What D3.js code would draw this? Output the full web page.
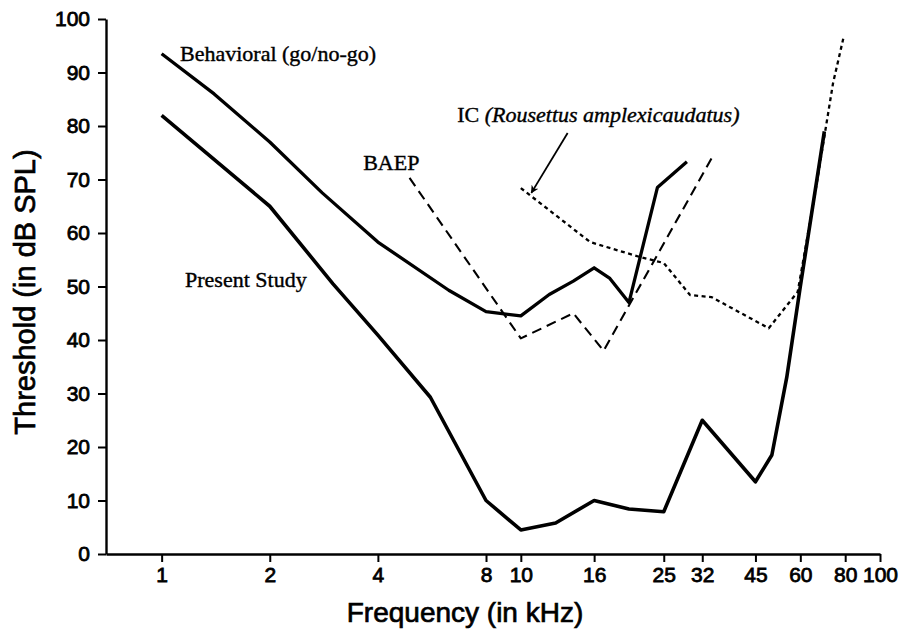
<!DOCTYPE html>
<html>
<head>
<meta charset="utf-8">
<script src="https://cdn.jsdelivr.net/npm/d3@7.9.0/dist/d3.min.js"></script>
<style>
  html, body { margin: 0; padding: 0; background: white; }
  svg { display: block; }
</style>
</head>
<body>
<div id="chart"></div>
<script>
// frequencies in kHz, thresholds in dB SPL
const presentFreq = [1, 2, 3, 4, 5.6, 8, 10, 12.5, 16, 20, 25, 32, 45, 50, 55, 60, 70];
const presentThr  = [82, 65, 50.5, 40.9, 29.3, 10, 4.5, 5.8, 10, 8.4, 7.9, 25, 13.5, 18.5, 33, 50, 79];

const behavFreq = [1, 1.4, 2, 2.8, 4, 6.3, 8, 10, 12, 14, 16, 17.7, 20, 24, 29];
const behavThr  = [93.5, 86, 77, 67.5, 58.3, 49.3, 45.3, 44.5, 48.5, 51, 53.5, 51.5, 47, 68.5, 73.3];

const baepFreq = [4.9, 10, 14, 17, 34];
const baepThr  = [70.3, 40.3, 45, 38, 74];

const icFreq = [10, 15.6, 21.5, 25, 29.6, 34, 49, 59, 66, 74, 79];
const icThr  = [68.4, 58.3, 55.5, 54.4, 48.4, 48, 42.2, 49, 67.5, 88, 96.3];

const xTicks = [1, 2, 4, 8, 10, 16, 25, 32, 45, 60, 80, 100];
const yTicks = [0, 10, 20, 30, 40, 50, 60, 70, 80, 90, 100];

// label anchors in data units [freq, dB]
const labelBehav = [1.125, 92.1];
const labelPresent = [1.162, 49.9];
const labelBaep = [3.64, 71.8];
const labelIC = [6.65, 80.7];
const arrowFrom = [13.5, 78.7];
const arrowTo = [10.7, 67.5];

const width = 907;
const height = 632;

const svg = d3.select("#chart")
  .append("svg")
  .attr("width", width)
  .attr("height", height)
  .style("background-color", "white");

const xScale = d3.scaleLog().domain([0.7, 100]).range([106, 880]);
const yScale = d3.scaleLinear().domain([0, 100]).range([554, 19]);

const sans = "'Liberation Sans', Arial, Helvetica, sans-serif";
const serif = "'Liberation Serif', 'Times New Roman', serif";

// axes
const yAxis = svg.append("g")
  .attr("transform", `translate(${xScale(0.7)},0)`)
  .call(d3.axisLeft(yScale).tickValues(yTicks).tickSize(8).tickPadding(8).tickSizeOuter(0));

const xAxis = svg.append("g")
  .attr("transform", `translate(0,${yScale(0)})`)
  .call(d3.axisBottom(xScale).tickValues(xTicks).tickFormat(d3.format("d"))
    .tickSize(8).tickPadding(5).tickSizeOuter(0));

[xAxis, yAxis].forEach(g => {
  g.select(".domain").attr("stroke", "#000").attr("stroke-width", 2.4);
  g.selectAll(".tick line").attr("stroke", "#000").attr("stroke-width", 2);
  g.selectAll(".tick text")
    .attr("fill", "#000")
    .attr("stroke", "#000")
    .attr("stroke-width", 0.8)
    .style("font-family", sans)
    .style("font-size", "21px");
});

// axis titles
svg.append("text")
  .attr("x", 465)
  .attr("y", 622)
  .attr("text-anchor", "middle")
  .attr("stroke", "#000")
  .attr("stroke-width", 0.7)
  .style("font-family", sans)
  .style("font-size", "28px")
  .text("Frequency (in kHz)");

svg.append("text")
  .attr("transform", "rotate(-90)")
  .attr("x", -292)
  .attr("y", 35)
  .attr("text-anchor", "middle")
  .attr("stroke", "#000")
  .attr("stroke-width", 0.7)
  .style("font-family", sans)
  .style("font-size", "29px")
  .text("Threshold (in dB SPL)");

// curves
function drawCurve(freqs, thr, strokeWidth, dash) {
  const pts = freqs.map((f, i) => [f, thr[i]]);
  const line = d3.line()
    .x(d => xScale(d[0]))
    .y(d => yScale(d[1]));
  svg.append("path")
    .datum(pts)
    .attr("d", line)
    .attr("fill", "none")
    .attr("stroke", "#000")
    .attr("stroke-width", strokeWidth)
    .attr("stroke-linejoin", "round")
    .attr("stroke-dasharray", dash);
}

drawCurve(icFreq, icThr, 2.3, "4,3.5");
drawCurve(baepFreq, baepThr, 2.1, "10,6");
drawCurve(behavFreq, behavThr, 3.3, null);
drawCurve(presentFreq, presentThr, 3.6, null);

// labels
function addLabel(pos, txt) {
  return svg.append("text")
    .attr("x", xScale(pos[0]))
    .attr("y", yScale(pos[1]))
    .attr("fill", "#000")
    .attr("stroke", "#000")
    .attr("stroke-width", 0.4)
    .style("font-family", serif)
    .style("font-size", "22px")
    .text(txt);
}

addLabel(labelBehav, "Behavioral (go/no-go)");
addLabel(labelPresent, "Present Study");
addLabel(labelBaep, "BAEP");

const ic = addLabel(labelIC, "IC ");
ic.append("tspan").style("font-style", "italic").text("(Rousettus amplexicaudatus)");

// arrow
svg.append("defs").append("marker")
  .attr("id", "arrowhead")
  .attr("viewBox", "0 0 10 10")
  .attr("refX", 9)
  .attr("refY", 5)
  .attr("markerWidth", 8)
  .attr("markerHeight", 8)
  .attr("markerUnits", "userSpaceOnUse")
  .attr("orient", "auto")
  .append("path")
  .attr("d", "M0,0 L10,5 L0,10 L3,5 Z")
  .attr("fill", "#000");

svg.append("line")
  .attr("x1", xScale(arrowFrom[0]))
  .attr("y1", yScale(arrowFrom[1]))
  .attr("x2", xScale(arrowTo[0]))
  .attr("y2", yScale(arrowTo[1]))
  .attr("stroke", "#000")
  .attr("stroke-width", 1.8)
  .attr("marker-end", "url(#arrowhead)");
</script>
</body>
</html>
